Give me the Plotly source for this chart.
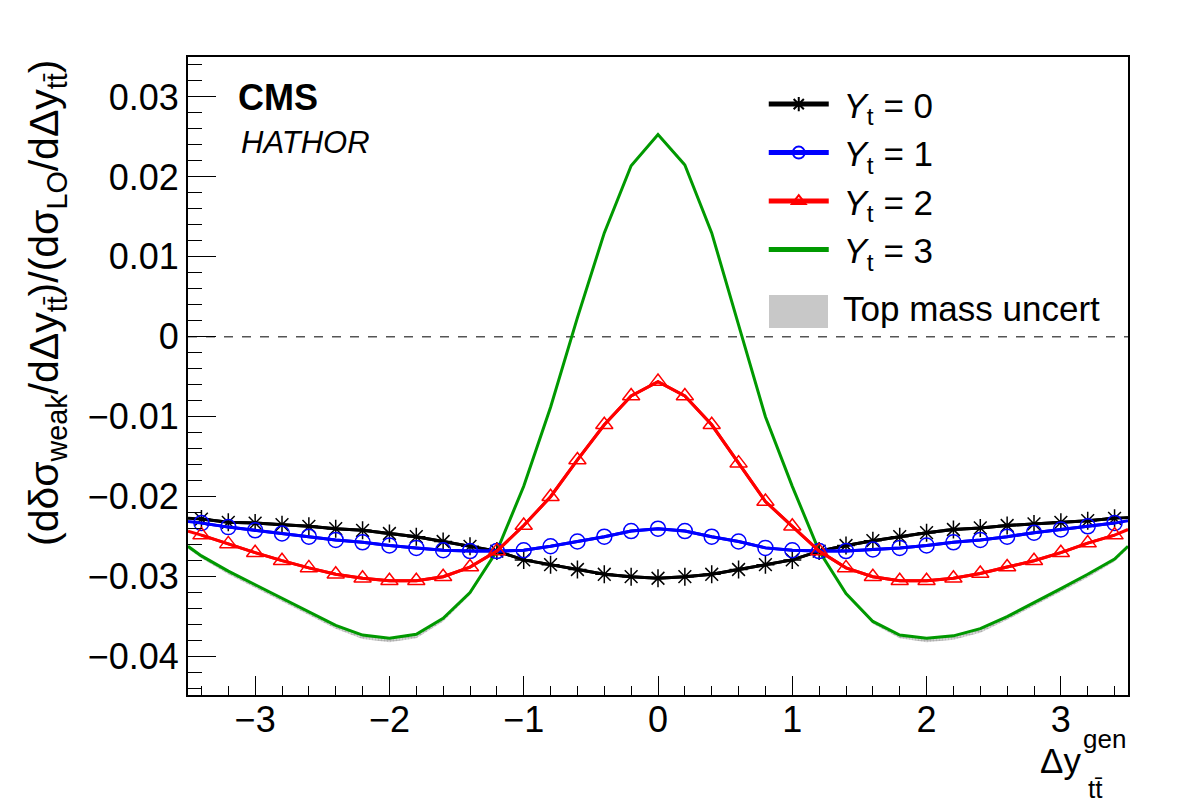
import plotly.graph_objects as go

# ---------------- data ----------------
x_pts = [-3.4, -3.2, -3.0, -2.8, -2.6, -2.4, -2.2, -2.0, -1.8, -1.6, -1.4, -1.2,
         -1.0, -0.8, -0.6, -0.4, -0.2, 0.0, 0.2, 0.4, 0.6, 0.8, 1.0, 1.2,
         1.4, 1.6, 1.8, 2.0, 2.2, 2.4, 2.6, 2.8, 3.0, 3.2, 3.4]
x_edges = [-3.5, 3.5]

yt0 = [-0.0228, -0.0232, -0.0233, -0.0235, -0.0237, -0.0240, -0.0242, -0.0246, -0.0250, -0.0256, -0.0262, -0.0268,
       -0.0279, -0.0285, -0.0291, -0.0297, -0.0300, -0.0302, -0.0300, -0.0297, -0.0291, -0.0285, -0.0279, -0.0268,
       -0.0261, -0.0255, -0.0250, -0.0245, -0.0241, -0.0239, -0.0236, -0.0234, -0.0232, -0.0230, -0.0227]
yt0_edges = [-0.0227, -0.0226]

yt1 = [-0.0233, -0.0238, -0.0242, -0.0246, -0.0250, -0.0254, -0.0257, -0.0261, -0.0264, -0.0267, -0.0268, -0.0268,
       -0.0267, -0.0262, -0.0256, -0.0250, -0.0243, -0.0240, -0.0243, -0.0250, -0.0256, -0.0264, -0.0267, -0.0268,
       -0.0268, -0.0266, -0.0264, -0.0261, -0.0257, -0.0254, -0.0250, -0.0245, -0.0241, -0.0237, -0.0233]
yt1_edges = [-0.0231, -0.0230]

yt2 = [-0.0248, -0.0259, -0.0270, -0.0280, -0.0289, -0.0297, -0.0302, -0.0305, -0.0305, -0.0300, -0.0288, -0.0268,
       -0.0236, -0.0200, -0.0154, -0.0110, -0.0074, -0.0056, -0.0074, -0.0110, -0.0158, -0.0206, -0.0237, -0.0268,
       -0.0289, -0.0300, -0.0305, -0.0305, -0.0302, -0.0296, -0.0288, -0.0280, -0.0270, -0.0258, -0.0248]
yt2_edges = [-0.0243, -0.0241]

yt3 = [-0.0274, -0.0293, -0.0310, -0.0327, -0.0344, -0.0361, -0.0373, -0.0377, -0.0372, -0.0352, -0.0320, -0.0268,
       -0.0187, -0.0088, 0.0024, 0.0130, 0.0214, 0.0253, 0.0215, 0.0130, 0.0015, -0.0100, -0.0187, -0.0268,
       -0.0321, -0.0356, -0.0373, -0.0377, -0.0374, -0.0365, -0.0350, -0.0333, -0.0315, -0.0297, -0.0278]
yt3_edges = [-0.0262, -0.0262]

# top mass uncertainty band around Y_t = 3 (offsets below / above), edges included
mass_dn = [0.0003, 0.0003, 0.0004, 0.0004, 0.0004, 0.0004, 0.0004, 0.0005, 0.0005, 0.0005, 0.0004, 0.0003, 0.0002,
           0.0001, 0.0001, 0.0001, 0.0001, 0.0001, 0.0002, 0.0002, 0.0002, 0.0001, 0.0001, 0.0001, 0.0001, 0.0002,
           0.0003, 0.0004, 0.0005, 0.0005, 0.0005, 0.0004, 0.0004, 0.0004, 0.0004, 0.0003, 0.0003]
mass_up = [0.0001, 0.0001, 0.0001, 0.0001, 0.0001, 0.0001, 0.0001, 0.0001, 0.0001, 0.0001, 0.0001, 0.0001, 0.0001,
           0.0001, 0.0001, 0.0001, 0.0001, 0.0001, 0.0002, 0.0003, 0.0002, 0.0001, 0.0001, 0.0001, 0.0001, 0.0001,
           0.0001, 0.0001, 0.0001, 0.0001, 0.0001, 0.0001, 0.0001, 0.0001, 0.0001, 0.0001, 0.0001]

x_tick_vals = [-3, -2, -1, 0, 1, 2, 3]
x_tick_text = ["\u22123", "\u22122", "\u22121", "0", "1", "2", "3"]
y_tick_vals = [-0.04, -0.03, -0.02, -0.01, 0.0, 0.01, 0.02, 0.03]
y_tick_text = ["\u22120.04", "\u22120.03", "\u22120.02", "\u22120.01", "0", "0.01", "0.02", "0.03"]

series_names = ["\u00a0<i>Y</i><sub>t</sub> = 0", "\u00a0<i>Y</i><sub>t</sub> = 1",
                "\u00a0<i>Y</i><sub>t</sub> = 2", "\u00a0<i>Y</i><sub>t</sub> = 3"]
band_name = "Top mass uncert"

# ---------------- figure ----------------
FONT = "Liberation Sans, Arial, Helvetica, sans-serif"
x_line = [x_edges[0]] + x_pts + [x_edges[1]]

def full(vals, edges):
    return [edges[0]] + vals + [edges[1]]

def px_x(p):
    return (p - 188) / 940

def px_y(p):
    return (695 - p) / 638

fig = go.Figure()

# uncertainty band
g_full = full(yt3, yt3_edges)
band_lo = [v - d for v, d in zip(g_full, mass_dn)]
band_hi = [v + u for v, u in zip(g_full, mass_up)]
fig.add_trace(go.Scatter(
    x=x_line + x_line[::-1], y=band_hi + band_lo[::-1],
    fill="toself", mode="lines", line=dict(width=0, color="rgba(0,0,0,0)"),
    fillcolor="#d0d0d0",
    fillpattern=dict(shape=".", size=3, solidity=0.5, fgcolor="#7a7a7a", bgcolor="#e0e0e0"),
    name=band_name, showlegend=False, hoverinfo="skip"))

# green (Y_t = 3)
fig.add_trace(go.Scatter(x=x_line, y=g_full, mode="lines",
                         line=dict(color="#009900", width=3),
                         name=series_names[3], legendrank=4, legendgroup="g4"))

colors = ["#000000", "#0000ff", "#ff0000"]
symbols = ["asterisk-open", "circle-open", "triangle-up-open"]
sizes = [15, 15, 15]
data = [(yt0, yt0_edges), (yt1, yt1_edges), (yt2, yt2_edges)]
for i, (vals, edges) in enumerate(data):
    fig.add_trace(go.Scatter(x=x_line, y=full(vals, edges), mode="lines",
                             line=dict(color=colors[i], width=3),
                             showlegend=False, hoverinfo="skip"))
    fig.add_trace(go.Scatter(x=x_pts, y=vals, mode="lines+markers",
                             line=dict(color=colors[i], width=3),
                             marker=dict(symbol=symbols[i], size=sizes[i],
                                         color=colors[i], line=dict(width=1.5, color=colors[i])),
                             name=series_names[i], legendrank=i + 1, legendgroup="g%d" % (i + 1)))

# zero line
fig.add_shape(type="line", xref="paper", yref="y", x0=0, x1=1, y0=0, y1=0,
              line=dict(color="#555555", width=1.5, dash="dash"), layer="below")

# manual legend entry for the band (swatch + label)
fig.add_shape(type="rect", xref="paper", yref="paper",
              x0=px_x(769), x1=px_x(828), y0=px_y(328), y1=px_y(295),
              fillcolor="#c8c8c8", line=dict(width=0), layer="above")
fig.add_annotation(text=band_name, xref="paper", yref="paper",
                   x=px_x(841), y=px_y(308.5), xanchor="left", yanchor="middle",
                   showarrow=False, font=dict(family=FONT, size=35, color="black"))

fig.update_layout(
    width=1182, height=803,
    margin=dict(l=188, r=54, t=57, b=108, autoexpand=False),
    paper_bgcolor="white", plot_bgcolor="white",
    font=dict(family=FONT, size=36, color="black"),
    showlegend=True,
    legend=dict(x=0.6125, y=0.972, xanchor="left", yanchor="top",
                bgcolor="rgba(0,0,0,0)", borderwidth=0,
                font=dict(family=FONT, size=35, color="black"),
                itemwidth=60, tracegroupgap=10, traceorder="normal",
                itemsizing="constant"),
    xaxis=dict(range=[-3.5, 3.5], showgrid=False, zeroline=False,
               showline=True, linecolor="black", linewidth=2, mirror=True,
               ticks="inside", ticklen=19, tickwidth=1.2, tickcolor="black",
               tickvals=x_tick_vals, ticktext=x_tick_text, ticklabelstandoff=-8,
               tickfont=dict(family=FONT, size=36, color="black"),
               minor=dict(dtick=0.2, ticklen=9, tickwidth=1.2, tickcolor="black", ticks="inside", showgrid=False)),
    yaxis=dict(range=[-0.0448, 0.035], showgrid=False, zeroline=False,
               showline=True, linecolor="black", linewidth=2, mirror=True,
               ticks="inside", ticklen=28, tickwidth=1.2, tickcolor="black",
               tickvals=y_tick_vals, ticktext=y_tick_text,
               tickfont=dict(family=FONT, size=36, color="black"),
               minor=dict(dtick=0.002, ticklen=14, tickwidth=1.2, tickcolor="black", ticks="inside", showgrid=False)),
)

# y-axis title
fig.add_annotation(
    text="(d\u03b4\u03c3<sub>weak</sub>/d\u0394y<sub>tt\u0304</sub>)/(d\u03c3<sub>LO</sub>/d\u0394y<sub>tt\u0304</sub>)",
    xref="paper", yref="paper", x=px_x(47), y=px_y(58), xanchor="center", yanchor="top",
    textangle=-90, showarrow=False, font=dict(family=FONT, size=41, color="black"))

# x-axis title pieces
fig.add_annotation(text="\u0394y", xref="paper", yref="paper",
                   x=px_x(1083), y=px_y(760), xanchor="right", yanchor="middle",
                   showarrow=False, font=dict(family=FONT, size=35, color="black"))
fig.add_annotation(text="gen", xref="paper", yref="paper",
                   x=px_x(1081), y=px_y(739), xanchor="left", yanchor="middle",
                   showarrow=False, font=dict(family=FONT, size=26, color="black"))
fig.add_annotation(text="tt\u0304", xref="paper", yref="paper",
                   x=px_x(1086), y=px_y(789), xanchor="left", yanchor="middle",
                   showarrow=False, font=dict(family=FONT, size=26, color="black"))

# CMS / HATHOR
fig.add_annotation(text="<b>CMS</b>", xref="paper", yref="paper",
                   x=px_x(236), y=px_y(97), xanchor="left", yanchor="middle",
                   showarrow=False, font=dict(family=FONT, size=36, color="black"))
fig.add_annotation(text="<i>HATHOR</i>", xref="paper", yref="paper",
                   x=px_x(239), y=px_y(142.5), xanchor="left", yanchor="middle",
                   showarrow=False, font=dict(family=FONT, size=31, color="black"))

fig.write_html("out.html")
